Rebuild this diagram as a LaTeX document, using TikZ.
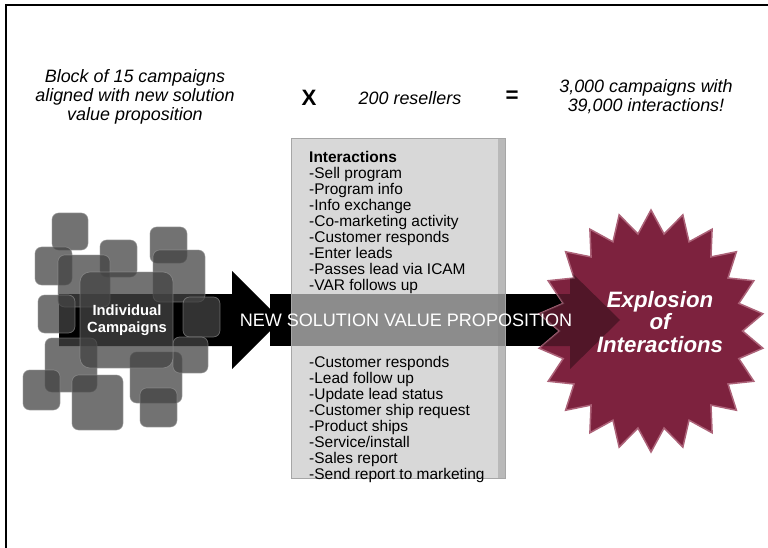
\documentclass[tikz,border=0pt]{standalone}
\usepackage{fontspec}
\setmainfont{Liberation Sans}
\usepackage{xcolor}
\usetikzlibrary{arrows.meta,positioning}

\definecolor{burstred}{RGB}{125,34,62}
\definecolor{burstedge}{RGB}{172,98,120}
\definecolor{squaregray}{RGB}{68,68,68}
\definecolor{boxgray}{RGB}{200,200,200}

\begin{document}
\begin{tikzpicture}[
    x=0.3mm, y=-0.3mm,
    every node/.style={inner sep=0pt},
    campaign/.style={fill=squaregray, fill opacity=0.75, draw=gray!80, draw opacity=0.6, line width=0.6pt, rounded corners=2mm},
    toptext/.style={font=\fontsize{15.3}{16.3}\selectfont\itshape, align=center},
    sign/.style={font=\fontsize{19}{20}\selectfont\bfseries},
    listtext/.style={font=\fontsize{13.2}{13.7}\selectfont, align=left, anchor=north west},
    burst/.style={fill=burstred, draw=burstedge, line width=1.3pt}
]

\useasboundingbox (0,0) rectangle (768,548);
\fill[white] (0,0) rectangle (768,548);

% frame
\draw[line width=2.4pt] (6,548) -- (6,5) -- (768,5);

% top row
\node[toptext] (block) at (135,97) {Block of 15 campaigns\\aligned with new solution\\value proposition};
\node[sign] (times) at (309,98) {X};
\node[toptext] (resellers) at (410,98) {200 resellers};
\node[sign] (equals) at (512,97) {=};
\node[toptext] (total) at (646,97) {3,000 campaigns with\\39,000 interactions!};

% arrow
\fill[black] (59,294) -- (232,294) -- (232,271) -- (281,320) -- (232,369) -- (232,346) -- (59,346) -- cycle;
\fill[black] (270,294) rectangle (572,346);

% campaign squares
\foreach \xa/\ya/\xb/\yb in {52/213/88/250, 35/247/72/285, 100/240/137/277, 150/227/187/263,
    58/255/110/307, 153/250/205/302, 38/295/75/333, 183/297/220/337, 45/338/97/392,
    23/370/60/410, 72/375/123/430, 130/352/182/403, 140/388/177/427, 173/337/208/373}
    \draw[campaign] (\xa,\ya) rectangle (\xb,\yb);
\draw[campaign, rounded corners=3mm] (80,272) rectangle (173,368);
\node[font=\fontsize{12.6}{14.4}\selectfont\bfseries, text=white, align=center] (individual) at (127,320) {Individual\\Campaigns};

% interactions box
\fill[boxgray, fill opacity=0.7] (291,138) rectangle (505,478);
\fill[gray, fill opacity=0.35] (498,138) rectangle (505,478);
\draw[gray!70, line width=0.5pt] (291,138) rectangle (505,478);
\node[listtext] (upper) at (309,151) {\textbf{Interactions}\\-Sell program\\-Program info\\-Info exchange\\-Co-marketing activity\\-Customer responds\\-Enter leads\\-Passes lead via ICAM\\-VAR follows up};
\node[listtext] (lower) at (309,356) {-Customer responds\\-Lead follow up\\-Update lead status\\-Customer ship request\\-Product ships\\-Service/install\\-Sales report\\-Send report to marketing};

% starburst, with the arrow head showing through it
\def\burstpath{plot[samples at={0,...,43}]
    ({651+(isodd(\x)?0.81:1)*113*cos(\x*360/44+90)}, {331+(isodd(\x)?0.81:1)*121*sin(\x*360/44+90)}) -- cycle}
\draw[burst] \burstpath;
\begin{scope}
    \clip \burstpath;
    \fill[black, fill opacity=0.35] (530,294) -- (570,294) -- (570,271) -- (620,320) -- (570,369) -- (570,346) -- (530,346) -- cycle;
\end{scope}

\node[font=\fontsize{15.4}{16}\selectfont, text=white] (proposition) at (406,320) {NEW SOLUTION VALUE PROPOSITION};
\node[font=\fontsize{19}{19.3}\selectfont\bfseries\itshape, text=white, align=center] (explosion) at (660,322) {Explosion\\of\\Interactions};

\end{tikzpicture}
\end{document}
